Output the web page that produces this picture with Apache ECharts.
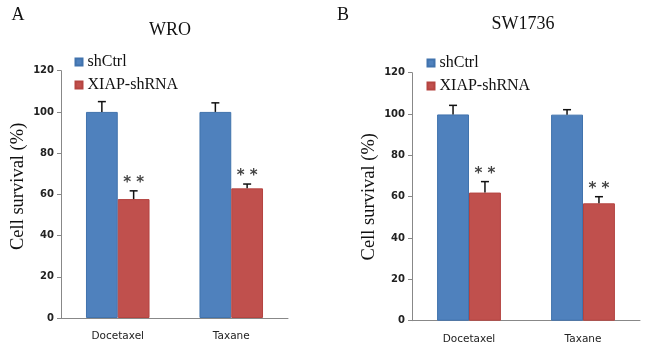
<!DOCTYPE html>
<html>
<head>
<meta charset="utf-8">
<script src="https://cdn.jsdelivr.net/npm/echarts@6/dist/echarts.min.js"></script>
<style>
  html, body { margin: 0; padding: 0; background: #fff; }
  #chart { width: 650px; height: 353px; }
</style>
</head>
<body>
<div id="chart"></div>
<script>
// data
const categories = ['Docetaxel', 'Taxane'];
const yTicks = [0, 20, 40, 60, 80, 100, 120];

// panel A (WRO)
const wroCtrl = [100, 100];
const wroCtrlErr = [5, 4.4];
const wroXiap = [57.7, 62.9];
const wroXiapErr = [4, 2.1];

// panel B (SW1736)
const swCtrl = [99.8, 99.7];
const swCtrlErr = [4.4, 2.4];
const swXiap = [62, 56.8];
const swXiapErr = [5.3, 3.2];

const BLUE = '#4f81bd';
const RED = '#c0504d';
const SERIF = '"Liberation Serif", "DejaVu Serif", serif';

const chart = echarts.init(document.getElementById('chart'));

// error bar (upward only) drawn with a custom series
const errorSeries = (idx, values, errs, sign, stars) => ({
  type: 'custom',
  xAxisIndex: idx,
  yAxisIndex: idx,
  silent: true,
  z: 5,
  data: values.map((v, i) => [i, v, v + errs[i]]),
  renderItem: (params, api) => {
    const band = api.size([1, 0])[0];
    const off = band * 0.14 * sign;
    const base = api.coord([api.value(0), api.value(1)]);
    const top = api.coord([api.value(0), api.value(2)]);
    const x = base[0] + off;
    const children = [
      { type: 'line', shape: { x1: x, y1: base[1], x2: x, y2: top[1] },
        style: { stroke: '#111', lineWidth: 1.5 } },
      { type: 'line', shape: { x1: x - 4, y1: top[1], x2: x + 4, y2: top[1] },
        style: { stroke: '#111', lineWidth: 1.5 } }
    ];
    if (stars) {
      children.push({
        type: 'text',
        style: { x: x, y: top[1] - 8, text: '* *', fill: '#444',
          font: 'bold 15px "DejaVu Sans"', align: 'center', verticalAlign: 'middle' }
      });
    }
    return { type: 'group', children };
  }
});

const barSeries = (idx, name, values, color, border) => ({
  name,
  type: 'bar',
  xAxisIndex: idx,
  yAxisIndex: idx,
  barWidth: '28%',
  barGap: 0,
  data: values,
  itemStyle: { color, borderColor: border, borderWidth: 1 }
});

const xAxis = (idx) => ({
  type: 'category',
  gridIndex: idx,
  data: categories,
  axisLine: { lineStyle: { color: '#888', width: 1 } },
  axisTick: { length: 5, lineStyle: { color: '#888' } },
  axisLabel: { color: '#222', fontFamily: 'DejaVu Sans', fontSize: 10.5, margin: 13 }
});

const yAxis = (idx, shift) => ({
  type: 'value',
  gridIndex: idx,
  min: yTicks[0],
  max: yTicks[yTicks.length - 1],
  interval: 20,
  name: 'Cell survival (%)',
  nameLocation: 'middle',
  nameGap: 33,
  nameTextStyle: { fontFamily: SERIF, fontSize: 18.5, color: '#111',
    padding: [0, 0, 0, shift] },
  axisLine: { show: true, lineStyle: { color: '#888', width: 1 } },
  axisTick: { show: true, length: 4, lineStyle: { color: '#888' } },
  axisLabel: { color: '#222', fontFamily: 'DejaVu Sans', fontWeight: 'bold',
    fontSize: 10, margin: 7 },
  splitLine: { show: false }
});

const legend = (left, top) => ({
  left, top,
  orient: 'vertical',
  icon: 'rect',
  itemWidth: 7,
  itemHeight: 7,
  itemGap: 5,
  data: ['shCtrl', 'XIAP-shRNA'],
  textStyle: { fontFamily: SERIF, fontSize: 16, color: '#111', lineHeight: 18 }
});

const label = (x, y, text, size) => ({
  type: 'text', x, y,
  style: { text, font: size + 'px ' + SERIF, fill: '#111',
    align: 'center', verticalAlign: 'middle' }
});

chart.setOption({
  animation: false,
  grid: [
    { left: 61, top: 70.7, width: 227, bottom: 35 },
    { left: 412, top: 72.7, width: 228, bottom: 32.3 }
  ],
  xAxis: [xAxis(0), xAxis(1)],
  yAxis: [yAxis(0, 16), yAxis(1, 0)],
  legend: [legend(69.5, 48), legend(421.5, 49)],
  graphic: [
    label(18, 15, 'A', 18),
    label(170, 30, 'WRO', 18),
    label(343, 15, 'B', 18),
    label(523, 24, 'SW1736', 18)
  ],
  series: [
    barSeries(0, 'shCtrl', wroCtrl, BLUE, '#4173ad'),
    barSeries(0, 'XIAP-shRNA', wroXiap, RED, '#b54440'),
    errorSeries(0, wroCtrl, wroCtrlErr, -1, false),
    errorSeries(0, wroXiap, wroXiapErr, 1, true),
    barSeries(1, 'shCtrl', swCtrl, BLUE, '#4173ad'),
    barSeries(1, 'XIAP-shRNA', swXiap, RED, '#b54440'),
    errorSeries(1, swCtrl, swCtrlErr, -1, false),
    errorSeries(1, swXiap, swXiapErr, 1, true)
  ]
});

window.addEventListener('resize', () => chart.resize());
</script>
</body>
</html>
